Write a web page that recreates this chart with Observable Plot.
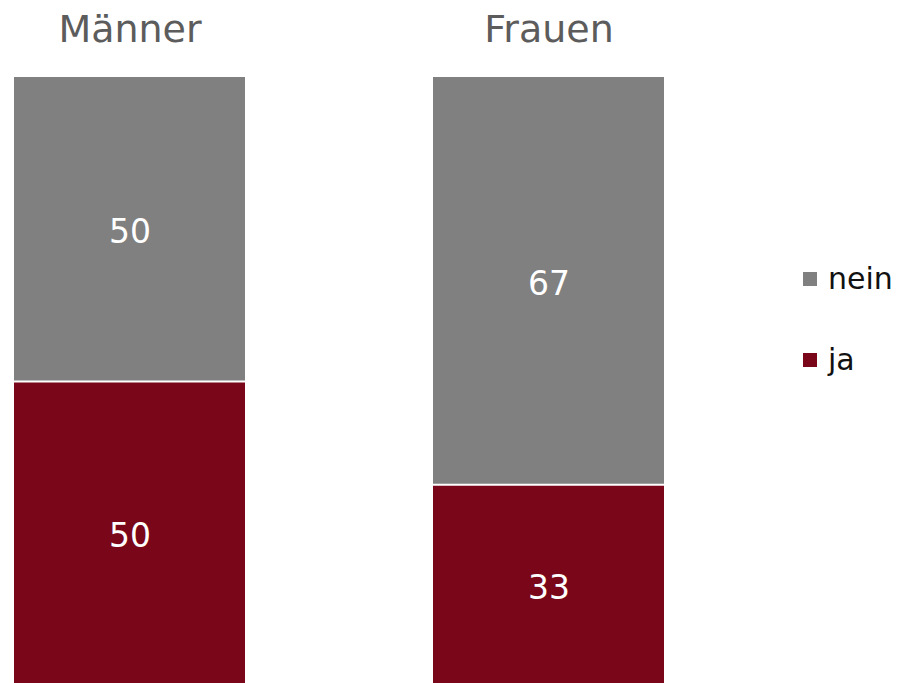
<!DOCTYPE html>
<html>
<head>
<meta charset="utf-8">
<script src="https://cdn.jsdelivr.net/npm/d3@7"></script>
<script src="https://cdn.jsdelivr.net/npm/@observablehq/plot@0.6"></script>
<style>
  html, body { margin: 0; padding: 0; background: #fff; overflow: hidden; }
  #wrap { position: relative; width: 898px; height: 683px; overflow: hidden; font-family: "DejaVu Sans", sans-serif; }
  .leg { position: absolute; font-size: 30px; line-height: 1; color: #111; }
  .sw { position: absolute; width: 14px; height: 14px; }
</style>
</head>
<body>
<div id="wrap"></div>
<script>
const groups = ["Männer", "Frauen"];
const answers = ["ja", "nein"];
const jaValues = [50, 33];
const neinValues = [50, 67];
const colors = {ja: "#7A0619", nein: "#808080"};

const data = [];
groups.forEach((g, i) => {
  data.push({group: g, answer: "ja", value: jaValues[i]});
  data.push({group: g, answer: "nein", value: neinValues[i]});
});
const jaData = data.filter(d => d.answer === "ja");

const chart = Plot.plot({
  width: 898,
  height: 685,
  marginTop: 77,
  marginBottom: 0,
  marginLeft: 13,
  marginRight: 233,
  style: {fontFamily: "DejaVu Sans, sans-serif", background: "#fff"},
  x: {domain: groups, paddingInner: 0.4476, paddingOuter: 0, axis: null},
  y: {domain: [0, 100], axis: null},
  color: {domain: answers, range: answers.map(a => colors[a])},
  marks: [
    Plot.barY(data, Plot.stackY({x: "group", y: "value", fill: "answer"})),
    Plot.tickY(jaData, {x: "group", y: "value", stroke: "#fff", strokeWidth: 2}),
    Plot.text(data, Plot.stackY({x: "group", y: "value", z: "answer", text: d => String(d.value), fill: "#fff", fontSize: 33, dy: 3})),
    Plot.axisX({anchor: "top", tickSize: 0, tickPadding: 36, fontSize: 38, color: "#5c5c5c", label: null})
  ]
});
const wrap = document.getElementById("wrap");
wrap.appendChild(chart);

const legendItems = [
  {label: "nein", key: "nein", swTop: 272, textTop: 264},
  {label: "ja", key: "ja", swTop: 353, textTop: 345}
];
legendItems.forEach(it => {
  const sw = document.createElement("div");
  sw.className = "sw";
  sw.style.left = "803px";
  sw.style.top = it.swTop + "px";
  sw.style.background = colors[it.key];
  wrap.appendChild(sw);
  const t = document.createElement("div");
  t.className = "leg";
  t.style.left = "828px";
  t.style.top = it.textTop + "px";
  t.textContent = it.label;
  wrap.appendChild(t);
});
</script>
</body>
</html>
